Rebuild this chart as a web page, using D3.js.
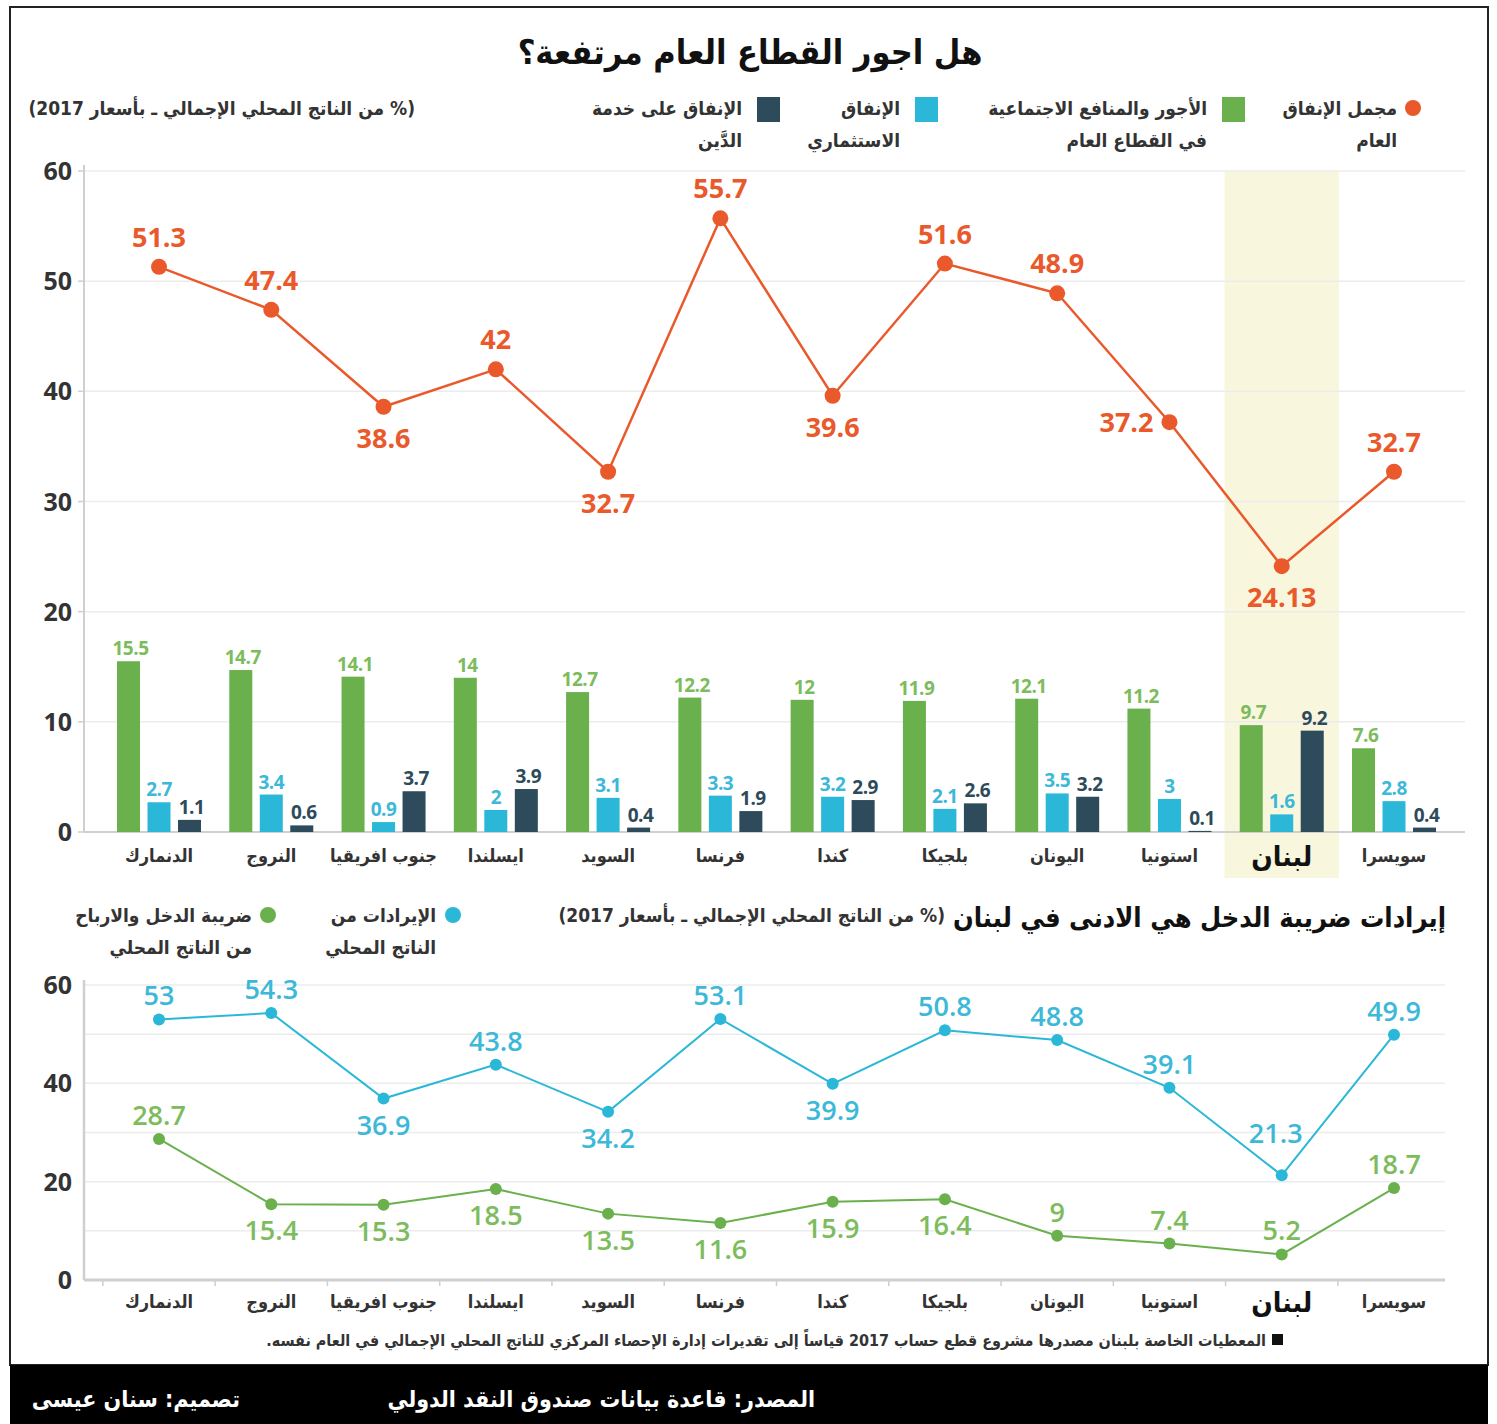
<!DOCTYPE html>
<html><head><meta charset="utf-8">
<script src="https://cdn.jsdelivr.net/npm/d3@7"></script>
<style>
html,body{margin:0;padding:0;background:#fff;}
svg{display:block;}
.ar{font-family:"DejaVu Sans Condensed","DejaVu Sans",sans-serif;}
.num{font-family:"Open Sans","Noto Sans",sans-serif;}
</style></head>
<body>
<svg id="c" width="1497" height="1424"></svg>
<script>
const countries = ["الدنمارك","النروج","جنوب افريقيا","ايسلندا","السويد","فرنسا","كندا","بلجيكا","اليونان","استونيا","لبنان","سويسرا"];
const highlight = "لبنان";
const totalSpending = [51.3,47.4,38.6,42,32.7,55.7,39.6,51.6,48.9,37.2,24.13,32.7];
const wages = [15.5,14.7,14.1,14,12.7,12.2,12,11.9,12.1,11.2,9.7,7.6];
const investment = [2.7,3.4,0.9,2,3.1,3.3,3.2,2.1,3.5,3,1.6,2.8];
const debtService = [1.1,0.6,3.7,3.9,0.4,1.9,2.9,2.6,3.2,0.1,9.2,0.4];
const revenue = [53,54.3,36.9,43.8,34.2,53.1,39.9,50.8,48.8,39.1,21.3,49.9];
const incomeTax = [28.7,15.4,15.3,18.5,13.5,11.6,15.9,16.4,9,7.4,5.2,18.7];
const topTicks = [0,10,20,30,40,50,60];
const bottomTicks = [0,20,40,60];
const bottomGrid = [10,20,30,40,50,60];
// label placement (a = above, A = higher above, b = below, l = left)
const totalPlace = ["a","a","b","a","b","a","b","a","a","l","b","a"];
const revenuePlace = ["a","a","b","a","b","a","b","a","a","a","A","a"];
const taxPlace = ["a","b","b","b","b","b","b","b","a","a","a","a"];

const C = {orange:"#e9592b", green:"#6ab04c", greenT:"#7cbc5c", cyan:"#2bb7d8", cyanT:"#3cb8d8", dark:"#2d4b5a", grid:"#ececec", axis:"#cfcfcf", tick:"#333"};

const svg = d3.select("#c");

// frame
svg.append("rect").attr("x",10).attr("y",7).attr("width",1478).attr("height",1358)
  .attr("fill","#fff").attr("stroke","#222").attr("stroke-width",2);
svg.append("rect").attr("x",10).attr("y",1365).attr("width",1478).attr("height",59).attr("fill","#000");

// title
svg.append("text").attr("class","ar").attr("x",750).attr("y",64).attr("text-anchor","middle")
  .attr("font-size",34).attr("font-weight","bold").attr("fill","#111").text("هل اجور القطاع العام مرتفعة؟");

// scales
const x = d3.scalePoint().domain(countries).range([159,1394]);
const yTop = d3.scaleLinear().domain([0,60]).range([832,171]);
const yBot = d3.scaleLinear().domain([0,60]).range([1280,985]);

// highlight
const step = x.step();
svg.append("rect").attr("x",x(highlight)-step/2-1).attr("y",yTop(60)).attr("width",step+2)
  .attr("height",878-yTop(60)).attr("fill","#f8f6dc");

// top grid
const gTop = svg.append("g");
gTop.selectAll("line.g").data(topTicks.filter(d=>d>0)).join("line")
  .attr("x1",84).attr("x2",1465).attr("y1",d=>yTop(d)).attr("y2",d=>yTop(d))
  .attr("stroke",C.grid).attr("stroke-width",1.5);
gTop.append("line").attr("x1",84).attr("x2",84).attr("y1",yTop(60)-6).attr("y2",yTop(0)).attr("stroke",C.axis).attr("stroke-width",2);
gTop.append("line").attr("x1",84).attr("x2",1465).attr("y1",yTop(0)).attr("y2",yTop(0)).attr("stroke",C.axis).attr("stroke-width",2);
gTop.selectAll("text.t").data(topTicks).join("text").attr("class","num")
  .attr("x",72).attr("y",d=>yTop(d)+9).attr("text-anchor","end").attr("font-size",25).attr("font-weight",700).attr("fill",C.tick)
  .text(d=>d);
gTop.selectAll("line.tk").data(topTicks).join("line").attr("x1",78).attr("x2",84).attr("y1",d=>yTop(d)).attr("y2",d=>yTop(d)).attr("stroke",C.axis).attr("stroke-width",1.5);

// bars
const barW = 23, barStep = 30.5;
const series = [{v:wages,c:C.green,t:C.greenT,o:-1},{v:investment,c:C.cyan,t:C.cyanT,o:0},{v:debtService,c:C.dark,t:C.dark,o:1}];
series.forEach(s=>{
  const g = svg.append("g");
  g.selectAll("rect").data(countries).join("rect")
    .attr("x",(d)=>x(d)+s.o*barStep-barW/2).attr("width",barW)
    .attr("y",(d,i)=>yTop(s.v[i])).attr("height",(d,i)=>yTop(0)-yTop(s.v[i])).attr("fill",s.c);
  g.selectAll("text").data(countries).join("text").attr("class","num")
    .attr("x",(d)=>x(d)+s.o*barStep+(s.o===0?0:2)).attr("y",(d,i)=>yTop(s.v[i])-6)
    .attr("text-anchor","middle").attr("font-size",19).attr("font-weight",700).attr("fill",s.t)
    .attr("letter-spacing",-0.5)
    .text((d,i)=>s.v[i]);
});

// top line
const lineTop = d3.line().x((d,i)=>x(countries[i])).y(d=>yTop(d));
svg.append("path").datum(totalSpending).attr("d",lineTop).attr("fill","none").attr("stroke",C.orange).attr("stroke-width",2.5);
svg.append("g").selectAll("circle").data(totalSpending).join("circle")
  .attr("cx",(d,i)=>x(countries[i])).attr("cy",d=>yTop(d)).attr("r",8).attr("fill",C.orange);
svg.append("g").selectAll("text").data(totalSpending).join("text").attr("class","num")
  .attr("x",(d,i)=>totalPlace[i]==="l"? x(countries[i])-16 : x(countries[i]))
  .attr("y",(d,i)=>totalPlace[i]==="a"? yTop(d)-20 : totalPlace[i]==="b"? yTop(d)+41 : yTop(d)+10)
  .attr("text-anchor",(d,i)=>totalPlace[i]==="l"?"end":"middle")
  .attr("font-size",27).attr("font-weight",700).attr("fill",C.orange).text(d=>d);

// top x labels
svg.append("g").selectAll("text").data(countries).join("text").attr("class","ar")
  .attr("x",d=>x(d)).attr("y",d=>d===highlight?866:862).attr("text-anchor","middle")
  .attr("font-size",d=>d===highlight?28:18).attr("font-weight","bold")
  .attr("fill",d=>d===highlight?"#111":"#333").text(d=>d);

// top legend
function legendText(xr, y, lines, size){
  const t = svg.append("text").attr("class","ar").attr("direction","rtl").attr("text-anchor","start")
    .attr("font-size",size||19).attr("font-weight","bold").attr("fill","#333");
  lines.forEach((l,i)=>t.append("tspan").attr("x",xr).attr("y",y+i*32).text(l));
}
svg.append("circle").attr("cx",1413).attr("cy",108).attr("r",8).attr("fill",C.orange);
legendText(1397,115,["مجمل الإنفاق","العام"]);
svg.append("rect").attr("x",1222).attr("y",97).attr("width",23).attr("height",25).attr("fill",C.green);
legendText(1207,115,["الأجور والمنافع الاجتماعية","في القطاع العام"]);
svg.append("rect").attr("x",915).attr("y",97).attr("width",23).attr("height",25).attr("fill",C.cyan);
legendText(900,115,["الإنفاق","الاستثماري"]);
svg.append("rect").attr("x",757).attr("y",97).attr("width",23).attr("height",25).attr("fill",C.dark);
legendText(742,115,["الإنفاق على خدمة","الدَّين"]);
legendText(415,115,["(% من الناتج المحلي الإجمالي ـ بأسعار 2017)"]);

// bottom section header
svg.append("text").attr("class","ar").attr("direction","rtl").attr("text-anchor","start")
  .attr("x",1446).attr("y",927).attr("font-size",27).attr("font-weight","bold").attr("fill","#111")
  .text("إيرادات ضريبة الدخل هي الادنى في لبنان");
legendText(945,922,["(% من الناتج المحلي الإجمالي ـ بأسعار 2017)"]);
svg.append("circle").attr("cx",453).attr("cy",915).attr("r",8).attr("fill",C.cyan);
legendText(436,922,["الإيرادات من","الناتج المحلي"]);
svg.append("circle").attr("cx",268).attr("cy",915).attr("r",8).attr("fill",C.green);
legendText(252,922,["ضريبة الدخل والارباح","من الناتج المحلي"]);

// bottom grid
const gB = svg.append("g");
gB.selectAll("line.g").data(bottomGrid).join("line")
  .attr("x1",84).attr("x2",1445).attr("y1",d=>yBot(d)).attr("y2",d=>yBot(d)).attr("stroke",C.grid).attr("stroke-width",1.5);
gB.append("line").attr("x1",84).attr("x2",84).attr("y1",yBot(60)-5).attr("y2",yBot(0)).attr("stroke",C.axis).attr("stroke-width",2.5);
gB.append("line").attr("x1",84).attr("x2",1445).attr("y1",yBot(0)).attr("y2",yBot(0)).attr("stroke",C.axis).attr("stroke-width",3);
gB.selectAll("line.tk").data(countries).join("line")
  .attr("x1",d=>x(d)-step/2).attr("x2",d=>x(d)-step/2).attr("y1",yBot(0)).attr("y2",yBot(0)+6).attr("stroke",C.axis).attr("stroke-width",1.5);
gB.selectAll("text").data(bottomTicks).join("text").attr("class","num")
  .attr("x",72).attr("y",d=>yBot(d)+9).attr("text-anchor","end").attr("font-size",25).attr("font-weight",700).attr("fill",C.tick).text(d=>d);

function botLine(vals, col, tcol, place){
  const ln = d3.line().x((d,i)=>x(countries[i])).y(d=>yBot(d));
  svg.append("path").datum(vals).attr("d",ln).attr("fill","none").attr("stroke",col).attr("stroke-width",2);
  svg.append("g").selectAll("circle").data(vals).join("circle")
    .attr("cx",(d,i)=>x(countries[i])).attr("cy",d=>yBot(d)).attr("r",6).attr("fill",col);
  svg.append("g").selectAll("text").data(vals).join("text").attr("class","num")
    .attr("x",(d,i)=>place[i]==="A"? x(countries[i])-6 : x(countries[i]))
    .attr("y",(d,i)=>place[i]==="a"? yBot(d)-14 : place[i]==="A"? yBot(d)-32 : yBot(d)+36)
    .attr("text-anchor","middle").attr("font-size",27).attr("font-weight",600).attr("fill",tcol).text(d=>d);
}
botLine(revenue, C.cyan, C.cyanT, revenuePlace);
botLine(incomeTax, C.green, C.greenT, taxPlace);

// bottom x labels
svg.append("g").selectAll("text").data(countries).join("text").attr("class","ar")
  .attr("x",d=>x(d)).attr("y",d=>d===highlight?1312:1308).attr("text-anchor","middle")
  .attr("font-size",d=>d===highlight?28:18).attr("font-weight","bold")
  .attr("fill",d=>d===highlight?"#111":"#333").text(d=>d);

// footnote
svg.append("rect").attr("x",1272).attr("y",1334).attr("width",11).attr("height",11).attr("fill","#111");
svg.append("text").attr("class","ar").attr("direction","rtl").attr("text-anchor","start")
  .attr("x",1266).attr("y",1346).attr("font-size",16).attr("font-weight","bold").attr("fill","#333")
  .text("المعطيات الخاصة بلبنان مصدرها مشروع قطع حساب 2017 قياساً إلى تقديرات إدارة الإحصاء المركزي للناتج المحلي الإجمالي في العام نفسه.");

// footer
svg.append("text").attr("class","ar").attr("direction","rtl").attr("text-anchor","start")
  .attr("x",815).attr("y",1407).attr("font-size",23).attr("font-weight","bold").attr("fill","#fff")
  .text("المصدر: قاعدة بيانات صندوق النقد الدولي");
svg.append("text").attr("class","ar").attr("direction","rtl").attr("text-anchor","start")
  .attr("x",240).attr("y",1407).attr("font-size",23).attr("font-weight","bold").attr("fill","#fff")
  .text("تصميم: سنان عيسى");
</script>
</body></html>
